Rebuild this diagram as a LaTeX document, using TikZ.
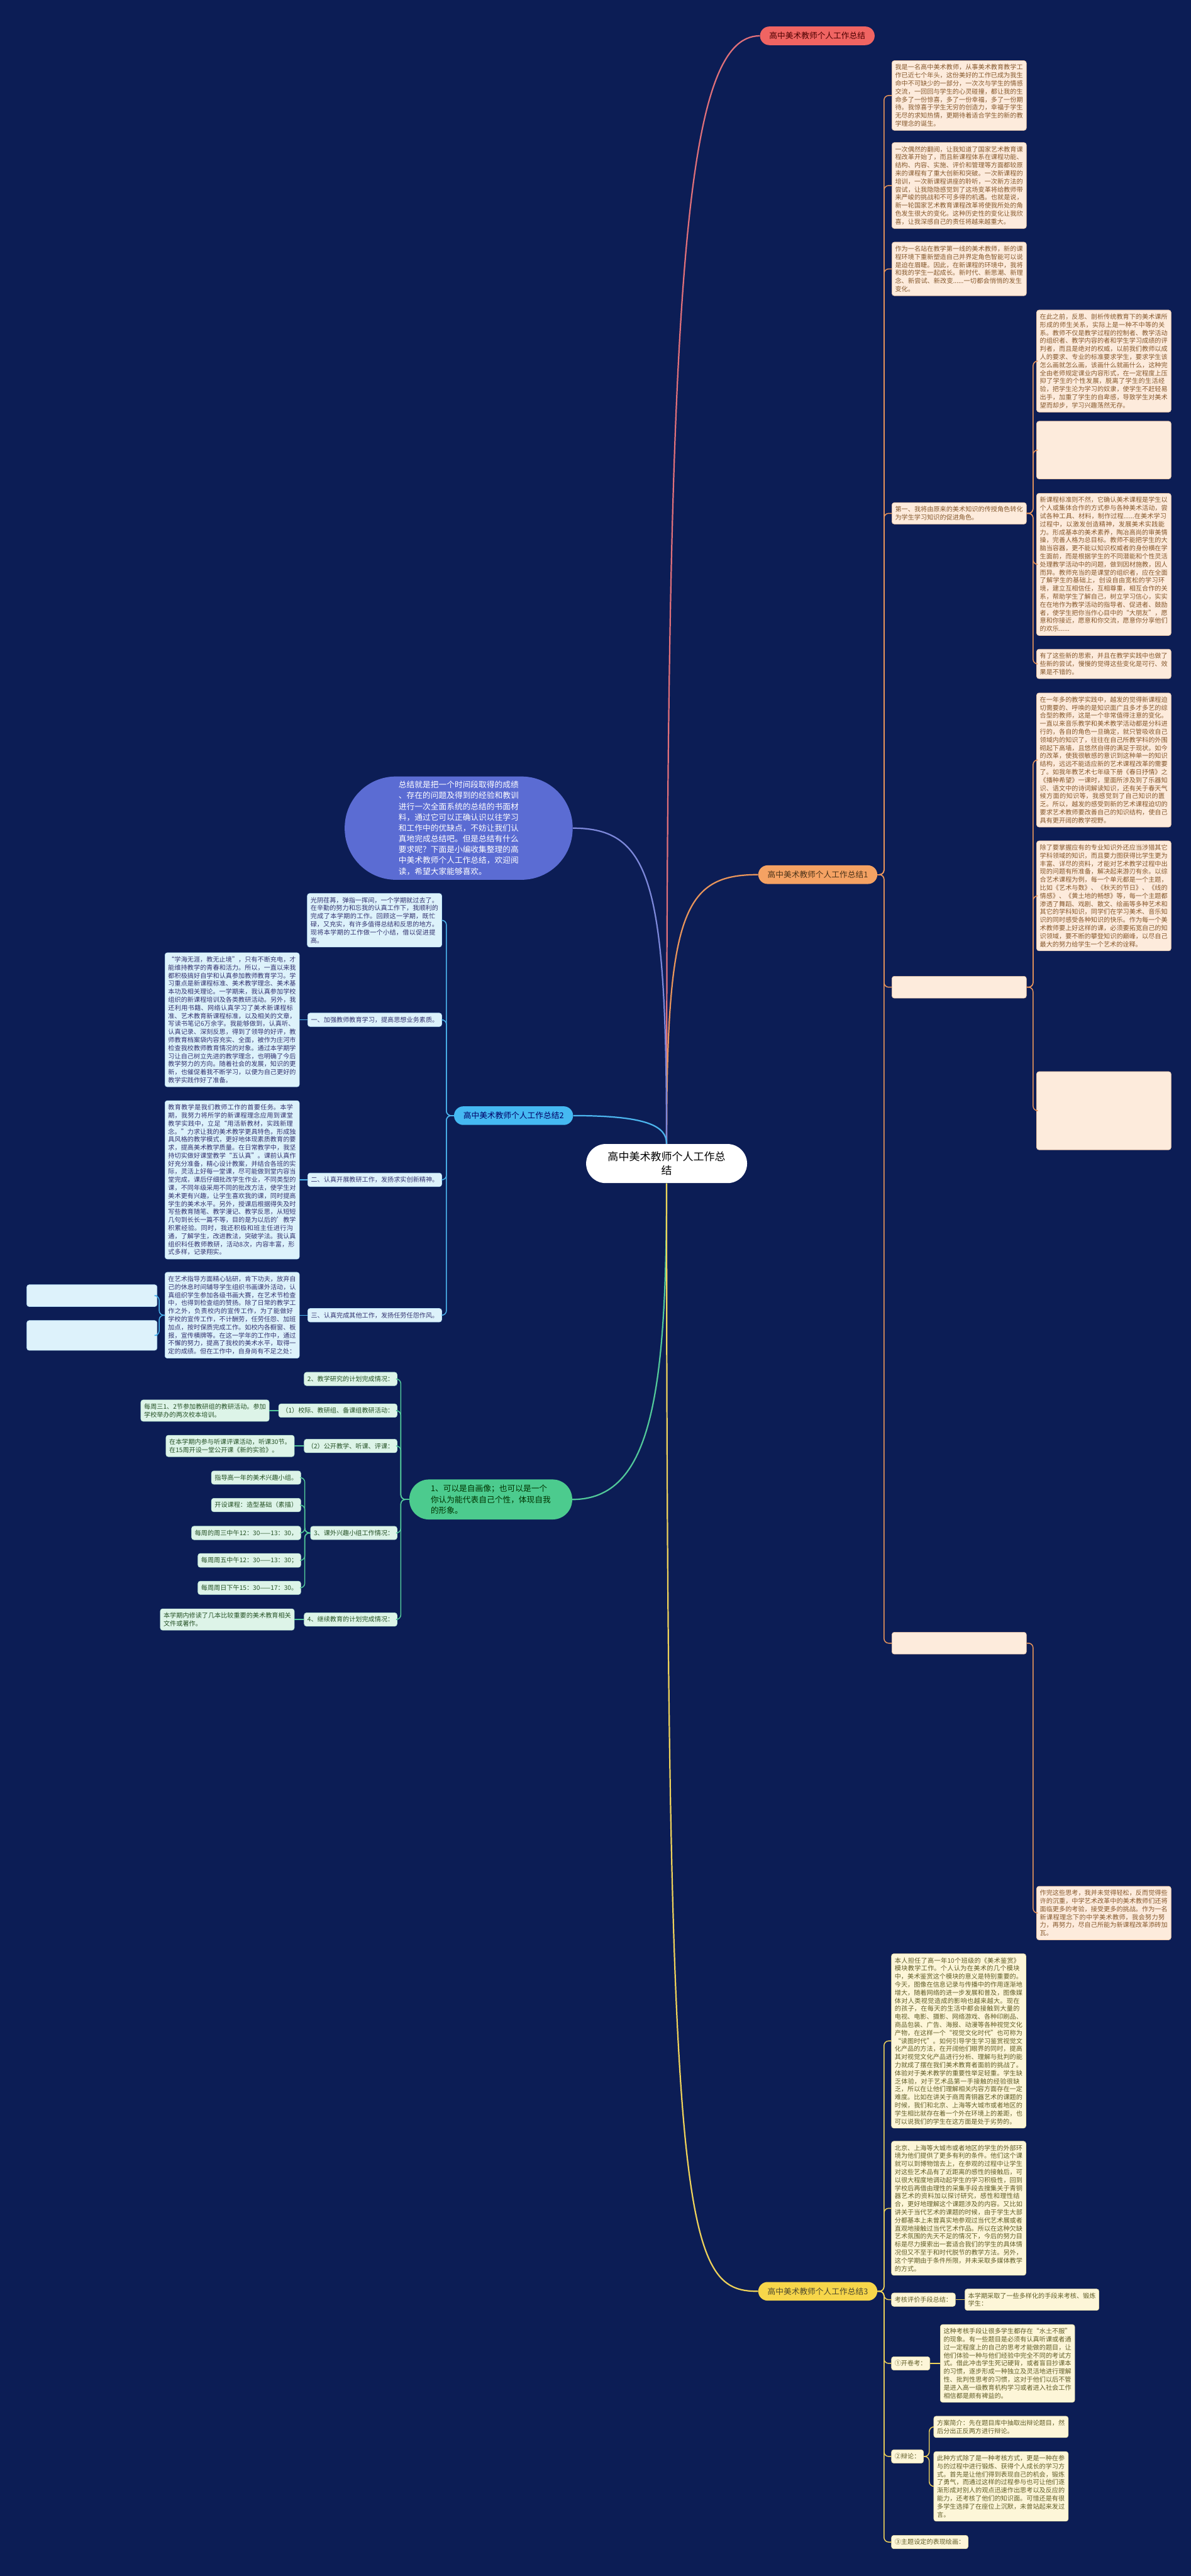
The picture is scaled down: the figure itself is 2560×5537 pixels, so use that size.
\documentclass[tikz,border=0pt]{standalone}
\usepackage{fontspec}
\setmainfont{Noto Sans CJK SC}
\XeTeXlinebreaklocale "zh"
\XeTeXlinebreakskip=0pt plus 1pt
\definecolor{navy}{HTML}{0C1D55}
\definecolor{redfill}{HTML}{F06462}
\definecolor{orangefill}{HTML}{F5A263}
\definecolor{yellowfill}{HTML}{F7D64A}
\definecolor{bluefill}{HTML}{45B9F2}
\definecolor{greenfill}{HTML}{4CCB8E}
\definecolor{purplefill}{HTML}{5B6CD3}
\definecolor{peach}{HTML}{FDEBDC}
\definecolor{peachedge}{HTML}{F2C9A8}
\definecolor{lblue}{HTML}{DDF2FB}
\definecolor{lgreen}{HTML}{DDF4E8}
\definecolor{lyellow}{HTML}{FDF6D8}
\definecolor{orangeline}{HTML}{E9955B}
\definecolor{blueline}{HTML}{4CB5EE}
\definecolor{greenline}{HTML}{52C99A}
\definecolor{yellowline}{HTML}{EED25A}
\definecolor{redline}{HTML}{E0707A}
\definecolor{purpleline}{HTML}{7D88DA}
\tikzset{
  leaf/.style={rounded corners=2.5pt, inner xsep=3.5pt, inner ysep=4pt, align=left,
    font=\fontsize{6.85}{8.65}\selectfont},
  wide/.style={text width=137.5pt},
  oleaf/.style={leaf, fill=peach, draw=peachedge, line width=0.4pt, text=brown!70!black},
  bleaf/.style={leaf, fill=lblue, draw=blueline!40, line width=0.4pt, text=blue!30!black!80},
  gleaf/.style={leaf, fill=lgreen, draw=greenline!40, line width=0.4pt, text=green!20!black!85},
  yleaf/.style={leaf, fill=lyellow, draw=yellowline!50, line width=0.4pt, text=olive!60!black},
  blank/.style={minimum width=144.5pt, inner sep=0pt},
  branch/.style={rounded corners=10pt, inner xsep=10pt, minimum height=20pt,
    font=\fontsize{8.6}{11.7}\selectfont},
  ocon/.style={draw=orangeline, line width=1pt, rounded corners=5pt},
  bcon/.style={draw=blueline, line width=1pt, rounded corners=5pt},
  gcon/.style={draw=greenline, line width=1pt, rounded corners=5pt},
  ycon/.style={draw=yellowline, line width=1pt, rounded corners=5pt},
  mainline/.style={line width=1.5pt}
}
\begin{document}
\begin{tikzpicture}[x=0.5pt, y=-0.5pt]
\fill[navy] (0,0) rectangle (2560,5537);
\useasboundingbox (0,0) rectangle (2560,5537);

% center and main branches
\node[fill=white, rounded corners=21pt, minimum width=173pt, minimum height=42pt,
  align=center, font=\fontsize{11.5}{15}\selectfont] (c) at (1433,2501)
  {高中美术教师个人工作总\\结};
\node[branch, fill=redfill, text=red!30!black] (r1) at (1757,77) {高中美术教师个人工作总结};
\node[branch, fill=orangefill, text=brown!40!black] (o1) at (1758,1880) {高中美术教师个人工作总结1};
\node[branch, fill=yellowfill, text=olive!40!black] (y1) at (1758,4925) {高中美术教师个人工作总结3};
\node[branch, fill=bluefill, text=blue!40!black] (b1) at (1104,2398) {高中美术教师个人工作总结2};
\node[branch, fill=greenfill, text=green!20!black, rounded corners=21pt,
  align=left, minimum width=175pt, minimum height=43pt] (g1) at (1055,3223)
  {1、可以是自画像；也可以是一个\\你认为能代表自己个性，体现自我\\的形象。};
\node[fill=purplefill, text=white, rounded corners=55pt, minimum width=245pt, minimum height=111pt,
  align=left, font=\fontsize{8.6}{11.6}\selectfont] (p1) at (986,1780)
  {总结就是把一个时间段取得的成绩\\、存在的问题及得到的经验和教训\\进行一次全面系统的总结的书面材\\料，通过它可以正确认识以往学习\\和工作中的优缺点，不妨让我们认\\真地完成总结吧。但是总结有什么\\要求呢？下面是小编收集整理的高\\中美术教师个人工作总结，欢迎阅\\读，希望大家能够喜欢。};

\draw[mainline, redline] (c.north) .. controls (1433,600) and (1470,77) .. (r1.west);
\draw[mainline, orangeline] (c.north) .. controls (1433,1960) and (1470,1880) .. (o1.west);
\draw[mainline, purpleline] (p1.east) .. controls (1400,1780) and (1433,1900) .. (c.north);
\draw[mainline, blueline] (b1.east) .. controls (1390,2398) and (1433,2420) .. (c.north);
\draw[mainline, greenline] (g1.east) .. controls (1400,3223) and (1433,3000) .. (c.south);
\draw[mainline, yellowline] (c.south) .. controls (1433,4800) and (1470,4925) .. (y1.west);

% branch 1
\node[oleaf, wide, anchor=north west] (oa) at (1917,130)
  {我是一名高中美术教师，从事美术教育教学工作已近七个年头，这份美好的工作已成为我生命中不可缺少的一部分，一次次与学生的情感交流，一回回与学生的心灵碰撞，都让我的生命多了一份惊喜，多了一份幸福，多了一份期待。我惊喜于学生无穷的创造力，幸福于学生无尽的求知热情，更期待着适合学生的新的教学理念的诞生。};
\node[oleaf, wide, anchor=north west] (ob) at (1917,306)
  {一次偶然的翻阅，让我知道了国家艺术教育课程改革开始了，而且新课程体系在课程功能、结构、内容、实施、评价和管理等方面都较原来的课程有了重大创新和突破。一次新课程的培训，一次新课程讲座的聆听，一次新方法的尝试，让我隐隐感觉到了这场变革将给教师带来严峻的挑战和不可多得的机遇。也就是说，新一轮国家艺术教育课程改革将使我所处的角色发生很大的变化。这种历史性的变化让我欣喜，让我深感自己的责任将越来越重大。};
\node[oleaf, wide, anchor=north west] (oc) at (1917,520)
  {作为一名站在教学第一线的美术教师，新的课程环境下重新塑造自己并界定角色智能可以说是迫在眉睫。因此，在新课程的环境中，我将和我的学生一起成长。新时代、新思潮、新理念、新尝试、新改变......一切都会悄悄的发生变化。};
\node[oleaf, wide, anchor=north west] (od) at (1917,1080)
  {第一、我将由原来的美术知识的传授角色转化为学生学习知识的促进角色。};
\node[oleaf, blank, minimum height=23.5pt, anchor=north west] (oe) at (1917,2098) {};
\node[oleaf, blank, minimum height=23.5pt, anchor=north west] (of) at (1917,3508) {};
\node[oleaf, wide, anchor=north west] (od1) at (2228,666)
  {在此之前，反思、剖析传统教育下的美术课所形成的师生关系，实际上是一种不中等的关系。教师不仅是教学过程的控制者、教学活动的组织者、教学内容的者和学生学习成绩的评判者，而且是绝对的权威，以前我们教师以成人的要求、专业的标准要求学生，要求学生该怎么画就怎么画，该画什么就画什么，这种完全由老师规定课业内容形式，在一定程度上压抑了学生的个性发展，脱离了学生的生活经验，把学生沦为学习的奴隶，使学生不赶轻易出手，加重了学生的自卑感，导致学生对美术望而却步，学习兴趣荡然无存。};
\node[oleaf, blank, minimum height=62pt, anchor=north west] (od2) at (2228,905) {};
\node[oleaf, wide, anchor=north west] (od3) at (2228,1060)
  {新课程标准则不然，它确认美术课程是学生以个人或集体合作的方式参与各种美术活动，尝试各种工具、材料，制作过程......在美术学习过程中，以激发创造精神，发展美术实践能力。形成基本的美术素养，陶冶高尚的审美情操，完善人格为总目标。教师不能把学生的大脑当容器，更不能以知识权威者的身份横在学生面前，而是根据学生的不同潜能和个性灵活处理教学活动中的问题，做到因材施教，因人而异。教师充当的是课堂的组织者，应在全面了解学生的基础上，创设自由宽松的学习环境，建立互相信任，互相尊重，相互合作的关系，帮助学生了解自己，树立学习信心，实实在在地作为教学活动的指导者、促进者、鼓励者，使学生把你当作心目中的“大朋友”，愿意和你接近，愿意和你交流，愿意你分享他们的欢乐......};
\node[oleaf, wide, anchor=north west] (od4) at (2228,1395)
  {有了这些新的思索，并且在教学实践中也做了些新的尝试，慢慢的觉得这些变化是可行、效果是不错的。};
\node[oleaf, wide, anchor=north west] (oe1) at (2228,1489)
  {在一年多的教学实践中，越发的觉得新课程迫切需要的、呼唤的是知识面广且多才多艺的综合型的教师，这是一个非常值得注意的变化。一直以来音乐教学和美术教学活动都是分科进行的，各自的角色一旦确定，就只管吸收自己领域内的知识了，往往在自己所教学科的外围砌起下高墙，且悠然自得的满足于现状。如今的改革，使我很敏感的意识到这种单一的知识结构，远远不能适应新的艺术课程改革的需要了。如我年教艺术七年级下册《春日抒情》之《播种希望》一课时，里面所涉及到了乐器知识、语文中的诗词解读知识，还有关于春天气候方面的知识等，我感觉到了自己知识的匮乏。所以，越发的感受到新的艺术课程迫切的要求艺术教师要改善自己的知识结构，使自己具有更开阔的教学视野。};
\node[oleaf, wide, anchor=north west] (oe2) at (2228,1807)
  {除了要掌握应有的专业知识外还应当涉猎其它学科领域的知识，而且要力图获得比学生更为丰富、详尽的资料，才能对艺术教学过程中出现的问题有所准备，解决起来游刃有余。以综合艺术课程为例，每一个单元都是一个主题，比如《艺术与数》、《秋天的节日》、《线的情感》、《黄土地的畅想》等，每一个主题都渗透了舞蹈、戏剧、散文、绘画等多种艺术和其它的学科知识，同学们在学习美术、音乐知识的同时感受各种知识的快乐。作为每一个美术教师要上好这样的课，必须要拓宽自己的知识领域，要不断的攀登知识的巅峰，以尽自己最大的努力给学生一个艺术的诠释。};
\node[oleaf, blank, minimum height=84pt, anchor=north west] (oe3) at (2228,2303) {};
\node[oleaf, wide, anchor=north west] (of9) at (2228,4054)
  {作完这些思考，我并未觉得轻松，反而觉得些许的沉重，中学艺术改革中的美术教师们还将面临更多的考验，接受更多的挑战。作为一名新课程理念下的中学美术教师，我会努力努力，再努力，尽自己所能为新课程改革添砖加瓦。};
\foreach \n in {oa,ob,oc,od,oe,of}
  \draw[ocon] (o1.east) -- ++(14,0) |- (\n.west);
\foreach \n in {od1,od2,od3,od4}
  \draw[ocon] (od.east) -- ++(14,0) |- (\n.west);
\foreach \n in {oe1,oe2,oe3}
  \draw[ocon] (oe.east) -- ++(14,0) |- (\n.west);
\draw[ocon] (of.east) -- ++(14,0) |- (of9.west);

% branch 2
\node[bleaf, wide, anchor=north east] (ba) at (950,1920)
  {光阴荏苒，弹指一挥间，一个学期就过去了。在辛勤的努力和忘我的认真工作下，我顺利的完成了本学期的工作。回顾这一学期，既忙碌，又充实，有许多值得总结和反思的地方。现将本学期的工作做一个小结，借以促进提高。};
\node[bleaf, anchor=east] (bb) at (950,2192) {一、加强教师教育学习，提高思想业务素质。};
\node[bleaf, anchor=east] (bc) at (950,2536) {二、认真开展教研工作，发扬求实创新精神。};
\node[bleaf, anchor=east] (bd) at (950,2827) {三、认真完成其他工作，发扬任劳任怨作风。};
\node[bleaf, wide, anchor=east] (bb1) at (644,2192)
  {“学海无涯，教无止境”，只有不断充电，才能维持教学的青春和活力。所以，一直以来我都积极搞好自学和认真参加教师教育学习。学习重点是新课程标准、美术教学理念、美术基本功及相关理论。一学期来，我认真参加学校组织的新课程培训及各类教研活动。另外，我还利用书籍、网络认真学习了美术新课程标准、艺术教育新课程标准，以及相关的文章，写读书笔记6万余字。我能够做到，认真听、认真记录、深刻反思，得到了领导的好评，教师教育档案袋内容充实、全面，被作为庄河市检查我校教师教育情况的对象。通过本学期学习让自己树立先进的教学理念，也明确了今后教学努力的方向。随着社会的发展，知识的更新，也催促着我不断学习，以便为自己更好的教学实践作好了准备。};
\node[bleaf, wide, anchor=east] (bc1) at (644,2536)
  {教育教学是我们教师工作的首要任务。本学期，我努力将所学的新课程理念应用到课堂教学实践中，立足“用活新教材，实践新理念。”力求让我的美术教学更具特色，形成独具风格的教学模式，更好地体现素质教育的要求，提高美术教学质量。在日常教学中，我坚持切实做好课堂教学“五认真”。课前认真作好充分准备，精心设计教案，并结合各班的实际，灵活上好每一堂课，尽可能做到堂内容当堂完成，课后仔细批改学生作业，不同类型的课，不同年级采用不同的批改方法，使学生对美术更有兴趣，让学生喜欢我的课，同时提高学生的美术水平。另外，授课后根据得失及时写些教育随笔、教学漫记、教学反思，从短短几句到长长一篇不等，目的是为以后的'教学积累经验。同时，我还积极和班主任进行沟通，了解学生，改进教法，突破学法。我认真组织科任教师教研，活动8次，内容丰富，形式多样，记录翔实。};
\node[bleaf, wide, anchor=east] (bd1) at (644,2827)
  {在艺术指导方面精心钻研，肯下功夫，放弃自己的休息时间辅导学生组织书画课外活动，认真组织学生参加各级书画大赛，在艺术节检查中，也得到检查组的赞扬。除了日常的教学工作之外，负责校内的宣传工作，为了能做好学校的宣传工作，不计酬劳，任劳任怨、加班加点，按时保质完成工作。如校内各橱窗、板报，宣传横牌等。在这一学年的工作中，通过不懈的努力，提高了我校的美术水平，取得一定的成绩。但在工作中，自身尚有不足之处：};
\node[bleaf, blank, minimum width=140pt, minimum height=23.5pt, anchor=north east] (bd2) at (338,2761) {};
\node[bleaf, blank, minimum width=140pt, minimum height=32pt, anchor=north east] (bd3) at (338,2838) {};
\foreach \n in {ba,bb,bc,bd}
  \draw[bcon] (b1.west) -- ++(-16,0) |- (\n.east);
\draw[bcon] (bb.west) -- (bb1.east);
\draw[bcon] (bc.west) -- (bc1.east);
\draw[bcon] (bd.west) -- (bd1.east);
\foreach \n in {bd2,bd3}
  \draw[bcon] (bd1.west) -- ++(-12,0) |- (\n.east);

% green branch
\node[gleaf, anchor=east] (ga) at (854,2964) {2、教学研究的计划完成情况：};
\node[gleaf, anchor=east] (gb) at (854,3032) {（1）校际、教研组、备课组教研活动：};
\node[gleaf, anchor=east] (gc) at (854,3108) {（2）公开教学、听课、评课：};
\node[gleaf, anchor=east] (gd) at (854,3295) {3、课外兴趣小组工作情况：};
\node[gleaf, anchor=east] (ge) at (854,3481) {4、继续教育的计划完成情况：};
\node[gleaf, anchor=east] (gb1) at (579,3032) {每周三1、2节参加教研组的教研活动。参加\\学校举办的两次校本培训。};
\node[gleaf, anchor=east] (gc1) at (633,3108) {在本学期内参与听课评课活动，听课30节。\\在15周开设一堂公开课《新的实验》。};
\node[gleaf, anchor=east] (gd1) at (647,3176) {指导高一年的美术兴趣小组。};
\node[gleaf, anchor=east] (gd2) at (647,3235) {开设课程：造型基础（素描）};
\node[gleaf, anchor=east] (gd3) at (647,3295) {每周的周三中午12：30——13：30，};
\node[gleaf, anchor=east] (gd4) at (647,3354) {每周周五中午12：30——13：30；};
\node[gleaf, anchor=east] (gd5) at (647,3413) {每周周日下午15：30——17：30。};
\node[gleaf, anchor=east] (ge1) at (633,3481) {本学期内修读了几本比较重要的美术教育相关\\文件或著作。};
\foreach \n in {ga,gb,gc,gd,ge}
  \draw[gcon] (g1.west) -- ++(-18,0) |- (\n.east);
\draw[gcon] (gb.west) -- (gb1.east);
\draw[gcon] (gc.west) -- (gc1.east);
\draw[gcon] (ge.west) -- (ge1.east);
\foreach \n in {gd1,gd2,gd3,gd4,gd5}
  \draw[gcon] (gd.west) -- ++(-12,0) |- (\n.east);

% branch 3
\node[yleaf, wide, anchor=north west] (ya) at (1916,4199)
  {本人担任了高一年10个班级的《美术鉴赏》模块教学工作。个人认为在美术的几个模块中，美术鉴赏这个模块的意义是特别重要的。今天，图像在信息记录与传播中的作用逐渐地增大，随着网络的进一步发展和普及，图像媒体对人类视觉造成的影响也越来越大。现在的孩子，在每天的生活中都会接触到大量的电视、电影、摄影、网络游戏、各种印刷品、商品包装、广告、海报、动漫等各种视觉文化产物，在这样一个“视觉文化时代”也可称为“读图时代”。如何引导学生学习鉴赏视觉文化产品的方法，在开阔他们眼界的同时，提高其对视觉文化产品进行分析、理解与批判的能力就成了摆在我们美术教育者面前的挑战了。体验对于美术教学的重要性举足轻重。学生缺乏体验，对于艺术品第一手接触的经验很缺乏，所以在让他们理解相关内容方面存在一定难度。比如在讲关于商周青铜器艺术的课题的时候，我们和北京、上海等大城市或者地区的学生相比就存在着一个外在环境上的差距，也可以说我们的学生在这方面是处于劣势的。};
\node[yleaf, wide, anchor=north west] (yb) at (1916,4602)
  {北京、上海等大城市或者地区的学生的外部环境为他们提供了更多有利的条件。他们这个课就可以到博物馆去上，在参观的过程中让学生对这些艺术品有了近距离的感性的接触后，可以很大程度地调动起学生的学习积极性，回到学校后再借由理性的采集手段去搜集关于青铜器艺术的资料加以探讨研究，感性和理性结合，更好地理解这个课题涉及的内容。又比如讲关于当代艺术的课题的时候，由于学生大部分都基本上未曾真实地参观过当代艺术展或者直观地接触过当代艺术作品。所以在这种欠缺艺术氛围的先天不足的情况下，今后的努力目标是尽力摸索出一套适合我们的学生的具体情况但又不至于和时代脱节的教学方法。另外，这个学期由于条件所限，并未采取多媒体教学的方式。};
\node[yleaf, anchor=west] (yc) at (1916,4943) {考核评价手段总结：};
\node[yleaf, anchor=west] (yc1) at (2074,4943) {本学期采取了一些多样化的手段来考核、锻炼\\学生：};
\node[yleaf, anchor=west] (yd) at (1916,5080) {①开卷考：};
\node[yleaf, wide, anchor=west] (yd1) at (2021,5080)
  {这种考核手段让很多学生都存在“水土不服”的现象。有一些题目是必须有认真听课或者通过一定程度上的自己的思考才能做的题目，让他们体验一种与他们经验中完全不同的考试方式。借此冲击学生死记硬背，或者盲目抄课本的习惯，逐步形成一种独立及灵活地进行理解性、批判性思考的习惯，这对于他们以后不管是进入高一级教育机构学习或者进入社会工作相信都是颇有裨益的。};
\node[yleaf, anchor=west] (ye) at (1916,5280) {②辩论：};
\node[yleaf, wide, anchor=north west] (ye1) at (2007,5193)
  {方案简介：先在题目库中抽取出辩论题目，然后分出正反两方进行辩论。};
\node[yleaf, wide, anchor=north west] (ye2) at (2007,5269)
  {此种方式除了是一种考核方式，更是一种在参与的过程中进行锻炼、获得个人成长的学习方式。首先是让他们得到表现自己的机会，锻炼了勇气，而通过这样的过程参与也可让他们逐渐形成对别人的观点迅速作出思考以及反应的能力，还考核了他们的知识面。可惜还是有很多学生选择了在座位上沉默，未曾站起来发过言。};
\node[yleaf, anchor=west] (yf) at (1916,5464) {③主题设定的表现绘画：};
\foreach \n in {ya,yb,yc,yd,ye,yf}
  \draw[ycon] (y1.east) -- ++(14,0) |- (\n.west);
\draw[ycon] (yc.east) -- (yc1.west);
\draw[ycon] (yd.east) -- (yd1.west);
\foreach \n in {ye1,ye2}
  \draw[ycon] (ye.east) -- ++(12,0) |- (\n.west);
\end{tikzpicture}
\end{document}
